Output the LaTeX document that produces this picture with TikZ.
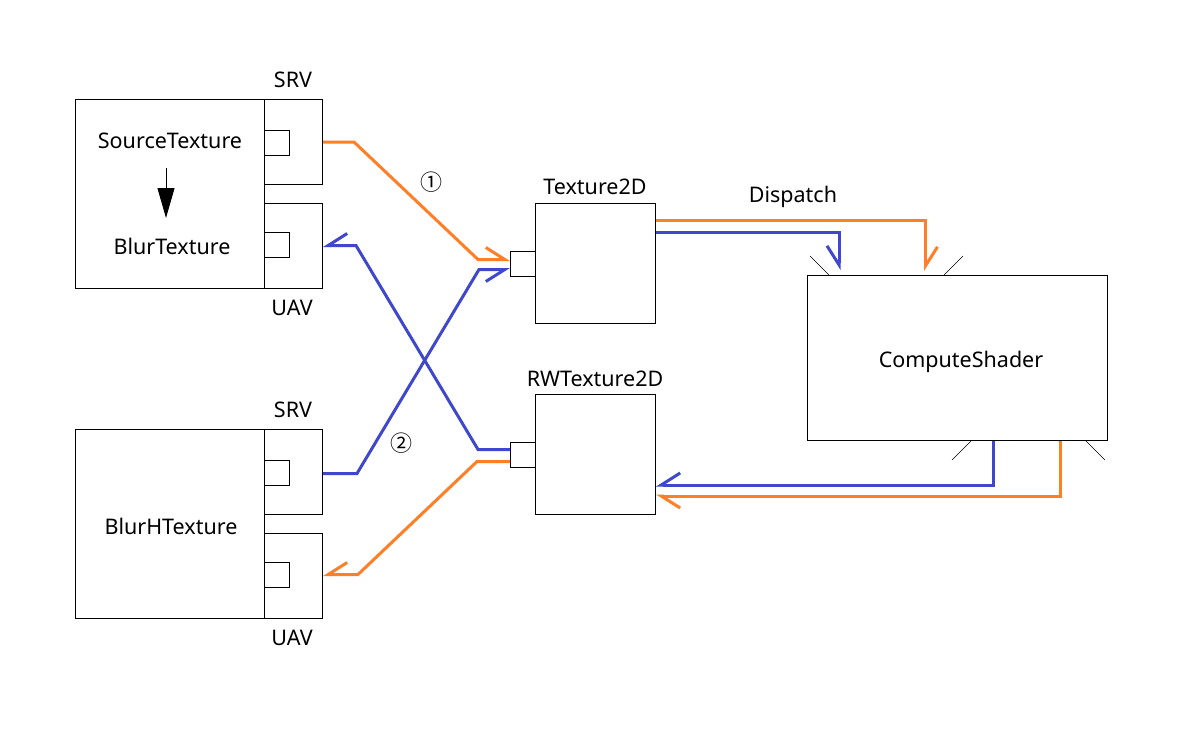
\documentclass[tikz,border=0pt]{standalone}
\usepackage{fontspec}
\setmainfont{Noto Sans}
\newfontfamily\symfont{Noto Sans CJK SC}
\usetikzlibrary{arrows.meta,calc}
\definecolor{porange}{RGB}{255,127,39}
\definecolor{pblue}{RGB}{63,72,204}
\begin{document}
\begin{tikzpicture}[x=1pt,y=-1pt,
  box/.style={draw, line width=1pt, inner sep=0pt, anchor=north west},
  lbl/.style={inner sep=0pt, font=\fontsize{21.5}{24}\selectfont},
  num/.style={inner sep=0pt, font=\symfont\fontsize{22}{24}\selectfont},
  oline/.style={draw=porange, line width=3pt},
  bline/.style={draw=pblue, line width=3pt},
  hl/.style={-{Straight Barb[left,length=19pt,width=24pt]}},
  hr/.style={-{Straight Barb[right,length=19pt,width=24pt]}},
  tick/.style={draw, line width=0.6pt}]
\useasboundingbox (0,0) rectangle (1199,740);
\fill[white] (0,0) rectangle (1199,740);
% left group 1
\node[box, minimum width=189pt, minimum height=189pt] (src) at (75,99) {};
\node[box, minimum width=58pt, minimum height=85pt] (srv1) at (264,99) {};
\node[box, minimum width=58pt, minimum height=85pt] (uav1) at (264,203) {};
\node[box, minimum width=25pt, minimum height=25pt] (sq1) at (264,130) {};
\node[box, minimum width=25pt, minimum height=25pt] (sq2) at (264,232) {};
\node[lbl] (srclbl) at (170,141) {SourceTexture};
\node[lbl] (blurlbl) at (172,246) {BlurTexture};
\node[lbl] (srvlbl1) at (293,80) {SRV};
\node[lbl] (uavlbl1) at (292,308) {UAV};
\coordinate (a1) at (166,168);
\coordinate (a2) at (166,218);
\draw[line width=1pt, -{Triangle[length=30pt,width=17pt]}] (a1) -- (a2);
% left group 2
\node[box, minimum width=189pt, minimum height=189pt] (blurh) at (75,429) {};
\node[box, minimum width=58pt, minimum height=85pt] (srv2) at (264,429) {};
\node[box, minimum width=58pt, minimum height=85pt] (uav2) at (264,533) {};
\node[box, minimum width=25pt, minimum height=25pt] (sq3) at (264,460) {};
\node[box, minimum width=25pt, minimum height=25pt] (sq4) at (264,562) {};
\node[lbl] (blurhlbl) at (171,526) {BlurHTexture};
\node[lbl] (srvlbl2) at (293,410) {SRV};
\node[lbl] (uavlbl2) at (292,638) {UAV};
% middle
\node[box, minimum width=120pt, minimum height=120pt] (tex) at (535,203) {};
\node[box, minimum width=25pt, minimum height=25pt] (p1) at (510,251) {};
\node[lbl] (texlbl) at (595,187) {Texture2D};
\node[box, minimum width=120pt, minimum height=120pt] (rw) at (535,394) {};
\node[box, minimum width=25pt, minimum height=25pt] (p2) at (510,442) {};
\node[lbl] (rwlbl) at (595,379) {RWTexture2D};
% compute
\node[box, minimum width=300pt, minimum height=165pt] (cs) at (807,275) {};
\node[lbl] (cslbl) at (961,362) {ComputeShader};
\node[lbl] (displbl) at (793,197) {Dispatch};
\node[num] (n1) at (431,182) {①};
\node[num] (n2) at (401,443) {②};
% ticks
\draw[tick] ($(cs.north west)+(3,-19)$) -- ($(cs.north west)+(22,0)$);
\draw[tick] ($(cs.north west)+(137,0)$) -- ($(cs.north west)+(156,-19)$);
\draw[tick] ($(cs.south west)+(164,0)$) -- ($(cs.south west)+(145,19)$);
\draw[tick] ($(cs.south west)+(279,0)$) -- ($(cs.south west)+(298,19)$);
% connectors
\draw[oline, hl] (srv1.east) -- ++(31,0) -- ($(p1.west)+(-32,-4.5)$) -- ($(p1.west)+(0,-4.5)$);
\draw[bline, hr] ($(srv2.east)+(0,1.5)$) -- ++(34,0) -- ($(p1.west)+(-31,5.5)$) -- ($(p1.west)+(0,5.5)$);
\draw[bline, hr] ($(p2.west)+(0,-5.5)$) -- ++(-32,0) -- ($(uav1.east)+(33,-0.5)$) -- ($(uav1.east)+(0,-0.5)$);
\draw[oline, hr] ($(p2.west)+(0,6.5)$) -- ++(-33,0) -- ($(uav2.east)+(35,-1.5)$) -- ($(uav2.east)+(0,-1.5)$);
\draw[oline, hl] ($(tex.north east)+(0,17)$) -| ($(cs.north west)+(118.5,-4)$);
\draw[bline, hr] ($(tex.north east)+(0,29)$) -| ($(cs.north west)+(32,-5)$);
\draw[bline, hr] ($(cs.south west)+(186,0)$) |- ($(rw.north east)+(0,91)$);
\draw[oline, hl] ($(cs.south west)+(253,0)$) |- ($(rw.north east)+(0,102)$);
\end{tikzpicture}
\end{document}
